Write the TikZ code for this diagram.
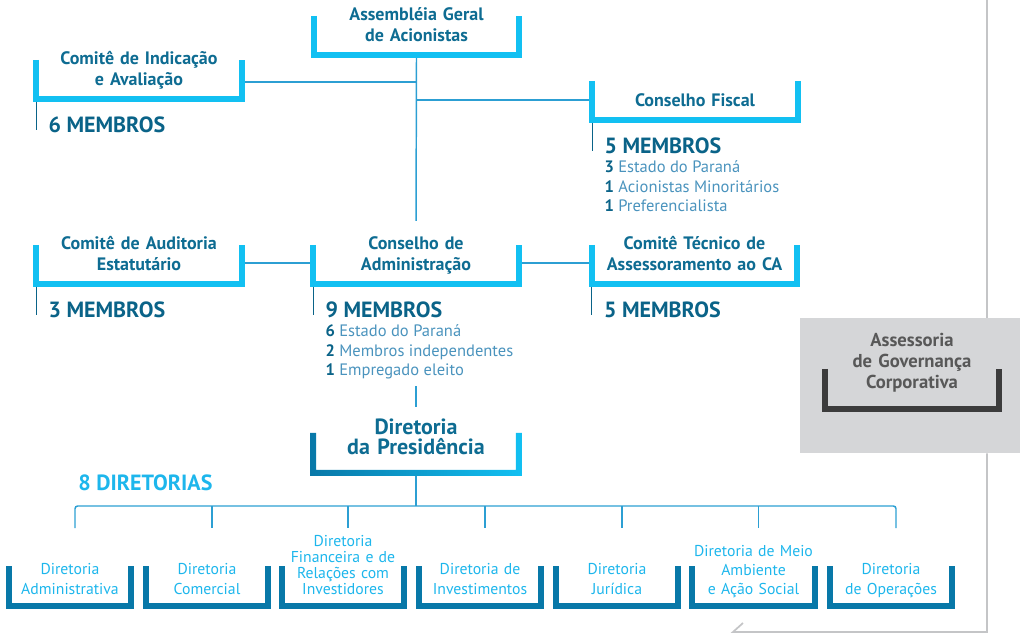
\documentclass[tikz,border=0pt]{standalone}
\usepackage{fontspec}
\setmainfont{PT Sans}
\usetikzlibrary{positioning,calc}

\definecolor{titleblue}{HTML}{0E6C92}
\definecolor{memberblue}{HTML}{0A6388}
\definecolor{listblue}{HTML}{4A93BD}
\definecolor{bracketcyan}{HTML}{12C0F2}
\definecolor{linkblue}{HTML}{2C9FD3}
\definecolor{dirdark}{HTML}{0878A8}
\definecolor{dircyan}{HTML}{1DB6EC}
\definecolor{graybg}{HTML}{D5D6D8}
\definecolor{graydark}{HTML}{3C3C3C}
\definecolor{graytext}{HTML}{585858}
\definecolor{grayline}{HTML}{C4C5C7}

\begin{document}
\begin{tikzpicture}
[x=0.75pt, y=-0.75pt,
% STYLES
% The unit style holds the name of each body; its bracket is drawn afterwards
unit/.style={anchor=south, inner xsep=0pt, inner ysep=6.75pt, text width=153.75pt, align=center, execute at end node={\rule[-3pt]{0pt}{1pt}}, text=titleblue, font=\fontsize{13.5}{15.75}\selectfont\bfseries},
% The directorate style is used for the eight boards at the bottom
directorate/.style={unit, text width=91.5pt, inner ysep=5.25pt, text=dircyan, font=\fontsize{11.8}{15}\selectfont},
% The members style gives the number of members of each body
members/.style={anchor=north west, inner sep=0pt, text=memberblue, font=\fontsize{16.5}{18}\selectfont\bfseries},
% The comment style lists who the members are
comment/.style={anchor=north west, inner sep=0pt, align=left, text=listblue, font=\fontsize{12.4}{14.6}\selectfont},
bracket/.style={draw=bracketcyan, line width=4.5pt},
link/.style={draw=linkblue, line width=1.1pt},
tick/.style={draw=memberblue, line width=0.6pt},
graybox/.style={rectangle, fill=graybg, inner sep=0pt, minimum width=165pt, minimum height=101.25pt}]

\useasboundingbox (0,0) rectangle (1032,634);

% Draw bodies
\node [unit] (agm) at (416.5,55) {Assembléia Geral\\de Acionistas};
\node [unit] (cia) at (139,99) {Comitê de Indicação\\e Avaliação};
\node [unit] (cf) at (695,120) {Conselho Fiscal};
\node [unit] (cau) at (139,284) {Comitê de Auditoria\\Estatutário};
\node [unit] (cda) at (416,284) {Conselho de\\Administração};
\node [unit] (ctc) at (694.5,284) {Comitê Técnico de\\Assessoramento ao CA};
\node [unit, inner ysep=10.5pt, font=\fontsize{16.5}{15}\selectfont\bfseries] (dp) at (416,473) {Diretoria\\da Presidência};

% GOVERNANCE OFFICE
\node [graybox] (gbox) at (910,385.5) {};
\node [unit, text width=130.5pt, inner ysep=12pt, text=graytext, font=\fontsize{14}{16}\selectfont\bfseries] (agc) at (912,409) {Assessoria\\de Governança\\Corporativa};

%%%%%%%%%%%%%%%
% Members

% NOMINATION
\node [members, below right=13pt and 9pt of cia.south west] (cia-m) {6 MEMBROS};

% FISCAL COUNCIL
\node [members, below right=13pt and 9pt of cf.south west] (cf-m) {5 MEMBROS};
\node [comment, below right=5pt and 0pt of cf-m.south west] (cf-list) {\textbf{\color{memberblue}3} Estado do Paraná\\
\textbf{\color{memberblue}1} Acionistas Minoritários\\
\textbf{\color{memberblue}1} Preferencialista};

% AUDIT
\node [members, below right=13pt and 9pt of cau.south west] (cau-m) {3 MEMBROS};

% BOARD
\node [members, below right=13pt and 9pt of cda.south west] (cda-m) {9 MEMBROS};
\node [comment, below right=5pt and 0pt of cda-m.south west] (cda-list) {\textbf{\color{memberblue}6} Estado do Paraná\\
\textbf{\color{memberblue}2} Membros independentes\\
\textbf{\color{memberblue}1} Empregado eleito};

% TECHNICAL COMMITTEE
\node [members, below right=13pt and 9pt of ctc.south west] (ctc-m) {5 MEMBROS};

%%%%%%%%%%%%%%%
% Directorates
\node [members, anchor=west, text=dircyan] (count) at (78,483) {8 DIRETORIAS};
\node [directorate] (adm) at (70,606) {Diretoria\\Administrativa};
\node [directorate] (com) at (207,606) {Diretoria\\Comercial};
\node [directorate, font=\fontsize{11.8}{12}\selectfont] (fin) at (343,606) {Diretoria\\Financeira e de\\Relações com\\Investidores};
\node [directorate] (inv) at (480,606) {Diretoria de\\Investimentos};
\node [directorate] (jur) at (617,606) {Diretoria\\Jurídica};
\node [directorate, font=\fontsize{11.8}{14.25}\selectfont] (mas) at (753.5,606) {Diretoria de Meio\\Ambiente\\e Ação Social};
\node [directorate] (ops) at (891,606) {Diretoria\\de Operações};
\coordinate (bus) at (416,506);

% Draw the links between bodies
\draw [link, shorten >=5pt] (agm.south) -- (cda.north);
\draw [link] ($(cia.south east)+(0,-17)$) -| (agm.south);
\draw [link] ($(cf.south west)+(0,-20)$) -| (agm.south);
\draw [link] ($(cau.south east)+(0,-21)$) -- ($(cda.south west)+(0,-21)$);
\draw [link] ($(cda.south east)+(0,-21)$) -- ($(ctc.south west)+(0,-21)$);
\draw [link, shorten <=5pt, shorten >=-2pt] (cda-list.south -| dp.south) -- (dp.north);
\draw [link] (dp.south) -- (bus);
\draw [link, rounded corners=2pt] ($(adm |- bus)+(5,22)$) |- ($(ops |- bus)+(5,0)$) -- ++(0,22);
\foreach \n in {com,fin,inv,jur,mas}
  \draw [link] ($(\n |- bus)+(5,0)$) -- ++(0,22);

% Governance office line
\coordinate (gtop) at (987,0);
\coordinate (gend) at (733,632);
\draw [draw=grayline, line width=1.3pt] (gtop) -- (gtop |- gbox.north);
\draw [draw=grayline, line width=1.3pt] (gtop |- gbox.south) |- (gend) -- ++(10,-9);

% Brackets
\foreach \n in {agm,cia,cf,cau,cda,ctc}
  \draw [bracket] ($(\n.south west)+(0,-39)$) -- (\n.south west) -- (\n.south east) -- ($(\n.south east)+(0,-39)$);
\foreach \n in {cia,cf,cau,cda,ctc}
  \draw [tick] ($(\n.south west)+(0,3)$) -- ++(0,28);
\foreach \n in {adm,com,fin,inv,jur,mas,ops}
  \draw [bracket, draw=dirdark] ($(\n.south west)+(0,-40)$) -- (\n.south west) -- (\n.south east) -- ($(\n.south east)+(0,-40)$);
\draw [bracket, draw=graydark] ($(agc.south west)+(0,-40)$) -- (agc.south west) -- (agc.south east) -- ($(agc.south east)+(0,-40)$);
\shade [left color=dirdark, right color=bracketcyan] ($(dp.south west)+(-3,-40)$) -- ($(dp.south west)+(-3,3)$) -- ($(dp.south east)+(3,3)$) -- ($(dp.south east)+(3,-40)$) -- ($(dp.south east)+(-3,-40)$) -- ($(dp.south east)+(-3,-3)$) -- ($(dp.south west)+(3,-3)$) -- ($(dp.south west)+(3,-40)$) -- cycle;

\end{tikzpicture}
\end{document}
